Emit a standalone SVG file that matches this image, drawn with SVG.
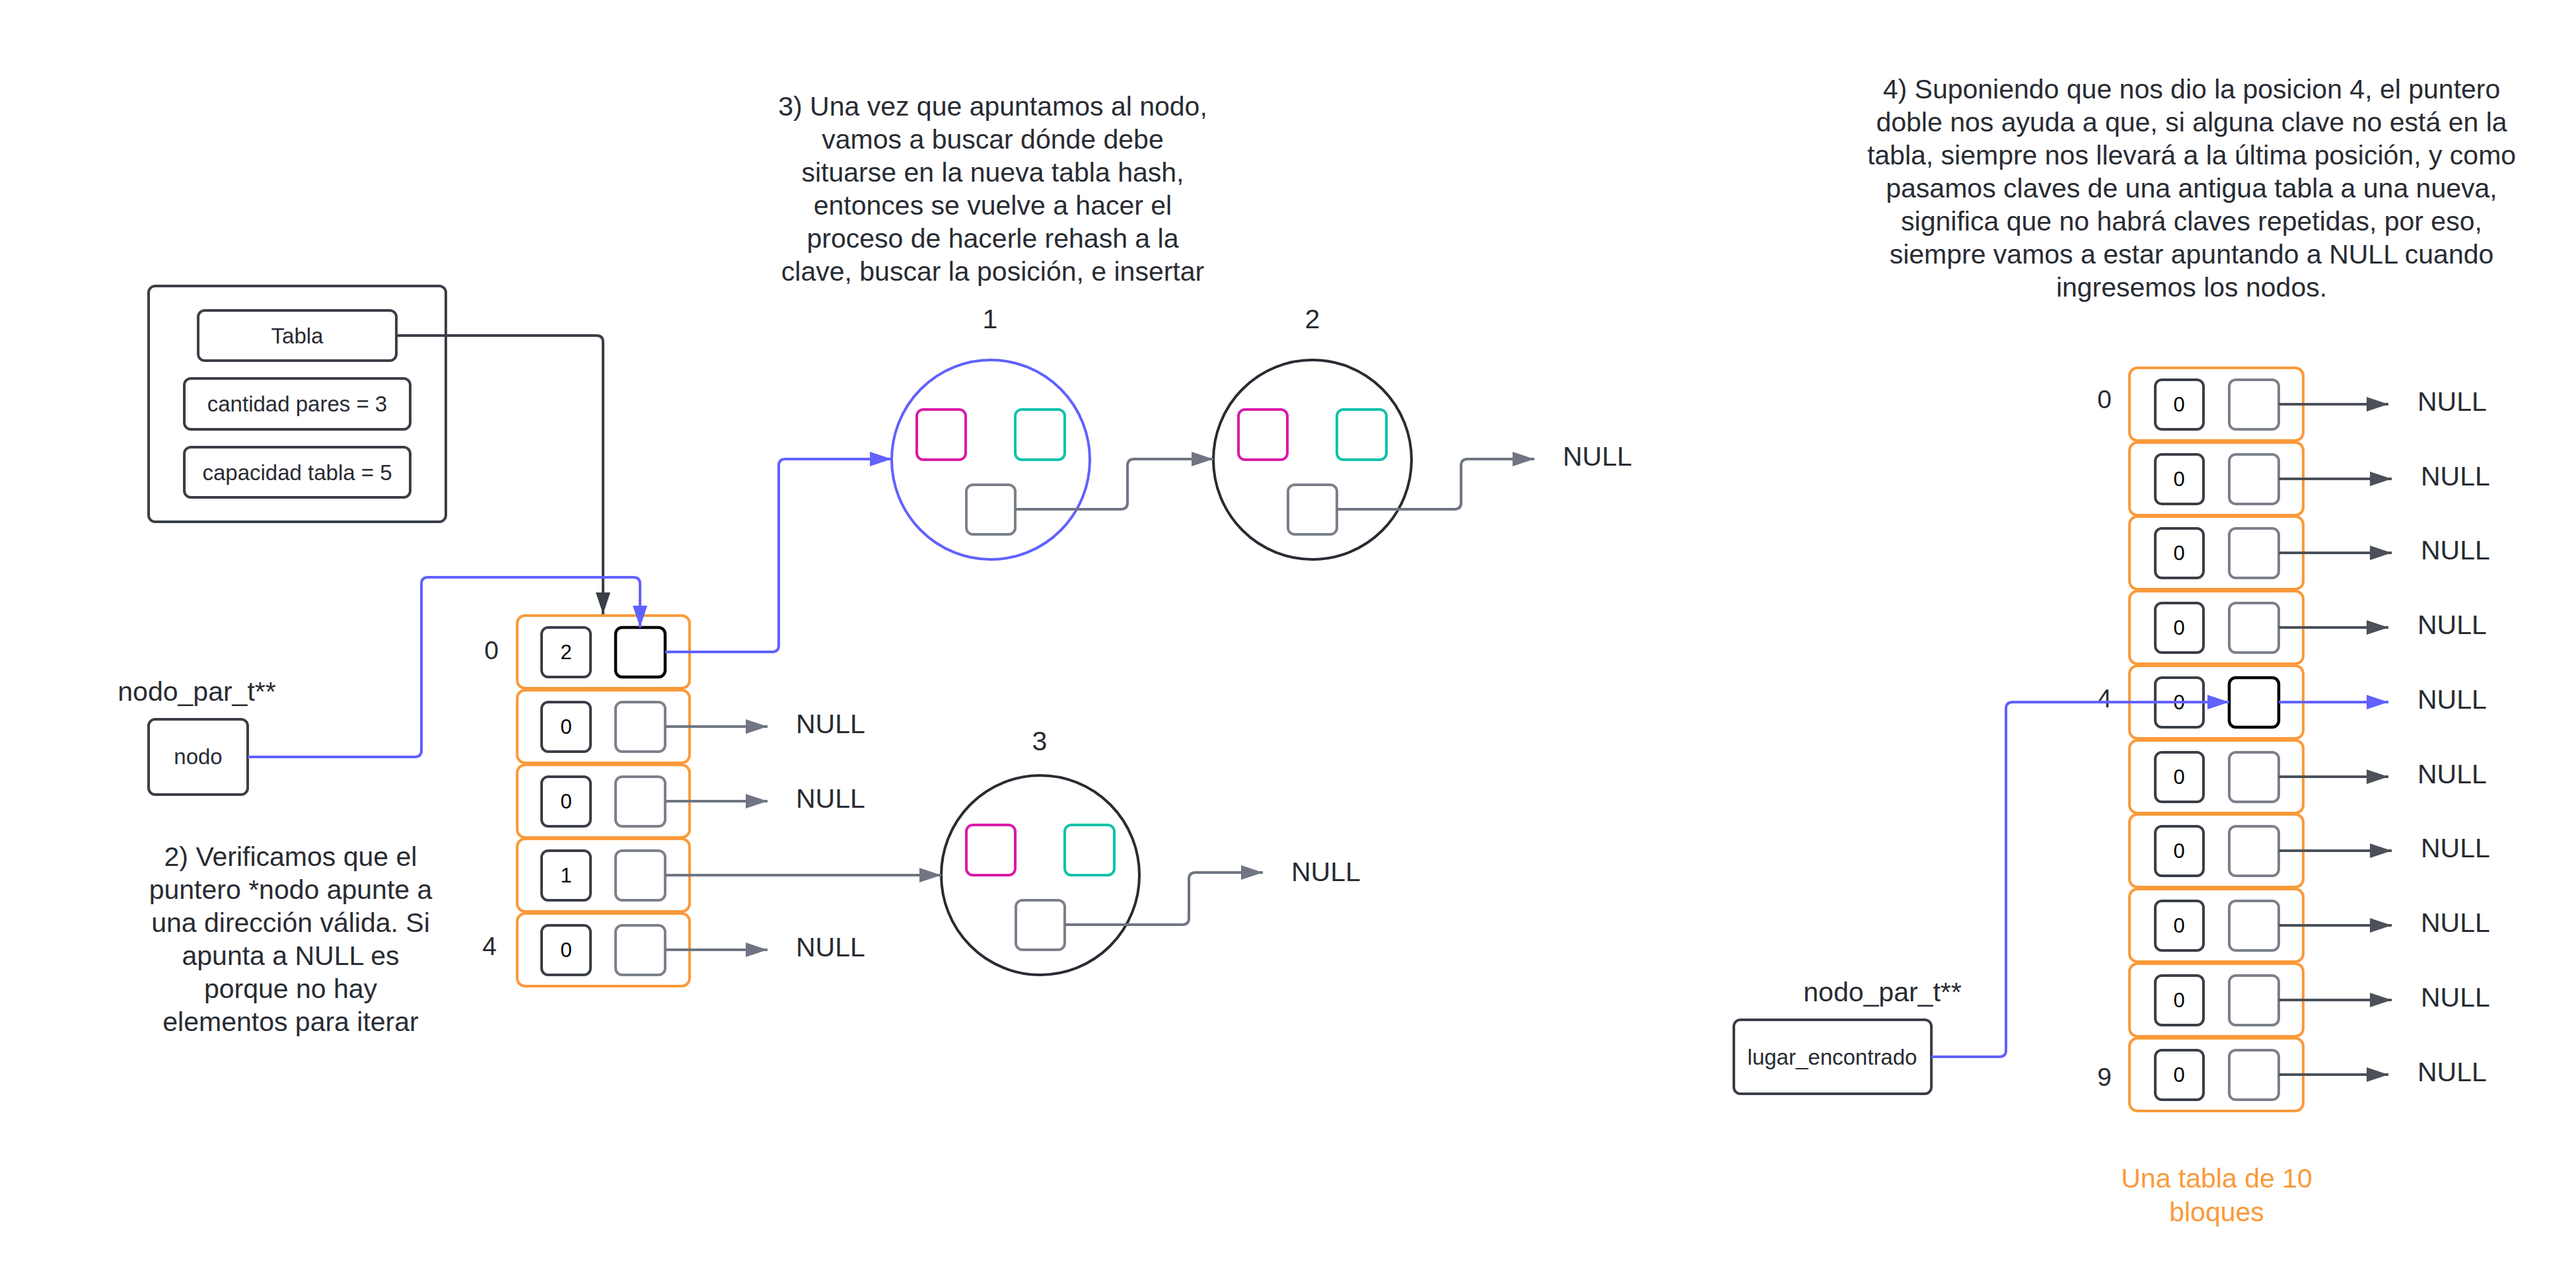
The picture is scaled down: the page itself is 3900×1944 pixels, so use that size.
<svg xmlns="http://www.w3.org/2000/svg" width="3900" height="1944" viewBox="0 0 3900 1944">
<defs>
<style>
text{font-family:"Liberation Sans",Arial,sans-serif;fill:#282c33}
.big{font-size:41px}
.idx{font-size:39px;text-anchor:middle}
.sm{font-size:33px;text-anchor:middle}
.num{font-size:31px;text-anchor:middle;fill:#000}
.mid{text-anchor:middle}
.box{fill:#fff;stroke:#3a3f47;stroke-width:4}
.row{fill:#fff;stroke:#fa9a3a;stroke-width:4}
.ik{fill:#fff;stroke:#3a3f47;stroke-width:4}
.ip{fill:#fff;stroke:#7b808b;stroke-width:4}
.ipb{fill:#fff;stroke:#000;stroke-width:4.5}
.mag{fill:#fff;stroke:#d91aa8;stroke-width:4}
.teal{fill:#fff;stroke:#10c2a8;stroke-width:4}
.cir{fill:#fff;stroke:#282c33;stroke-width:4}
.cirb{fill:#fff;stroke:#6161ff;stroke-width:4}
.c{fill:none;stroke-width:4}
.g{stroke:#6f7582}
.dk{stroke:#4b5059}
.bl{stroke:#6161ff}
.tb{stroke:#3a3f47}
.orange{fill:#fa9a3a}
</style>
<marker id="ag" markerUnits="userSpaceOnUse" markerWidth="34" markerHeight="24" refX="33" refY="11" orient="auto"><path d="M0,0 L33,11 L0,22 z" fill="#6f7582"/></marker>
<marker id="ad" markerUnits="userSpaceOnUse" markerWidth="34" markerHeight="24" refX="33" refY="11" orient="auto"><path d="M0,0 L33,11 L0,22 z" fill="#4b5059"/></marker>
<marker id="ab" markerUnits="userSpaceOnUse" markerWidth="34" markerHeight="24" refX="33" refY="11" orient="auto"><path d="M0,0 L33,11 L0,22 z" fill="#6161ff"/></marker>
<marker id="at" markerUnits="userSpaceOnUse" markerWidth="34" markerHeight="24" refX="33" refY="11" orient="auto"><path d="M0,0 L33,11 L0,22 z" fill="#3a3f47"/></marker>
</defs>
<rect width="3900" height="1944" fill="#fff"/>

<g id="texts">
<text class="big mid" x="1503" y="175">3) Una vez que apuntamos al nodo,</text>
<text class="big mid" x="1503" y="225">vamos a buscar dónde debe</text>
<text class="big mid" x="1503" y="275">situarse en la nueva tabla hash,</text>
<text class="big mid" x="1503" y="325">entonces se vuelve a hacer el</text>
<text class="big mid" x="1503" y="375">proceso de hacerle rehash a la</text>
<text class="big mid" x="1503" y="425">clave, buscar la posición, e insertar</text>

<text class="big mid" x="3318" y="149">4) Suponiendo que nos dio la posicion 4, el puntero</text>
<text class="big mid" x="3318" y="199">doble nos ayuda a que, si alguna clave no está en la</text>
<text class="big mid" x="3318" y="249">tabla, siempre nos llevará a la última posición, y como</text>
<text class="big mid" x="3318" y="299">pasamos claves de una antigua tabla a una nueva,</text>
<text class="big mid" x="3318" y="349">significa que no habrá claves repetidas, por eso,</text>
<text class="big mid" x="3318" y="399">siempre vamos a estar apuntando a NULL cuando</text>
<text class="big mid" x="3318" y="449">ingresemos los nodos.</text>

<text class="big mid" x="440" y="1311">2) Verificamos que el</text>
<text class="big mid" x="440" y="1361">puntero *nodo apunte a</text>
<text class="big mid" x="440" y="1411">una dirección válida. Si</text>
<text class="big mid" x="440" y="1461">apunta a NULL es</text>
<text class="big mid" x="440" y="1511">porque no hay</text>
<text class="big mid" x="440" y="1561">elementos para iterar</text>

<text class="big mid orange" x="3356" y="1798">Una tabla de 10</text>
<text class="big mid orange" x="3356" y="1849">bloques</text>
</g>

<g id="tabla-struct">
<rect class="box" x="225" y="433" width="450" height="357" rx="10"/>
<rect class="box" x="300" y="470" width="300" height="76" rx="10"/>
<text class="sm" x="450" y="520">Tabla</text>
<rect class="box" x="279" y="573" width="342" height="77" rx="10"/>
<text class="sm" x="450" y="623">cantidad pares = 3</text>
<rect class="box" x="279" y="677" width="342" height="76" rx="10"/>
<text class="sm" x="450" y="727">capacidad tabla = 5</text>
</g>

<g id="nodo-ptr">
<text class="big mid" x="298" y="1061">nodo_par_t**</text>
<rect class="box" x="225" y="1089" width="150" height="114" rx="10"/>
<text class="sm" x="300" y="1157">nodo</text>
</g>

<g id="tabla-vieja">
<text class="idx" x="744" y="998">0</text>
<text class="idx" x="741" y="1446">4</text>
<g id="tv-0"><rect class="row" x="783" y="932" width="261" height="110" rx="12"/><rect class="ik" x="820" y="950" width="74" height="75" rx="10"/><rect class="ipb" x="932" y="950" width="75" height="75" rx="10"/><text class="num" x="857" y="998">2</text></g>
<g id="tv-1"><rect class="row" x="783" y="1045" width="261" height="110" rx="12"/><rect class="ik" x="820" y="1063" width="74" height="75" rx="10"/><rect class="ip" x="932" y="1063" width="75" height="75" rx="10"/><text class="num" x="857" y="1111">0</text></g>
<g id="tv-2"><rect class="row" x="783" y="1158" width="261" height="110" rx="12"/><rect class="ik" x="820" y="1176" width="74" height="75" rx="10"/><rect class="ip" x="932" y="1176" width="75" height="75" rx="10"/><text class="num" x="857" y="1224">0</text></g>
<g id="tv-3"><rect class="row" x="783" y="1270" width="261" height="110" rx="12"/><rect class="ik" x="820" y="1288" width="74" height="75" rx="10"/><rect class="ip" x="932" y="1288" width="75" height="75" rx="10"/><text class="num" x="857" y="1336">1</text></g>
<g id="tv-4"><rect class="row" x="783" y="1383" width="261" height="110" rx="12"/><rect class="ik" x="820" y="1401" width="74" height="75" rx="10"/><rect class="ip" x="932" y="1401" width="75" height="75" rx="10"/><text class="num" x="857" y="1449">0</text></g>
<text class="big" x="1205" y="1110">NULL</text>
<text class="big" x="1205" y="1223">NULL</text>
<text class="big" x="1205" y="1448">NULL</text>
</g>

<g id="nodo-1">
<text class="big mid" x="1499" y="497">1</text>
<ellipse class="cirb" cx="1500" cy="696" rx="150" ry="151"/>
<rect class="mag" x="1388" y="620" width="74" height="76" rx="10"/>
<rect class="teal" x="1537" y="620" width="75" height="76" rx="10"/>
<rect class="ip" x="1463" y="734" width="74" height="75" rx="10"/>
</g>
<g id="nodo-2">
<text class="big mid" x="1987" y="497">2</text>
<ellipse class="cir" cx="1987" cy="696" rx="150" ry="151"/>
<rect class="mag" x="1875" y="620" width="74" height="76" rx="10"/>
<rect class="teal" x="2024" y="620" width="75" height="76" rx="10"/>
<rect class="ip" x="1950" y="734" width="74" height="75" rx="10"/>
<text class="big" x="2366" y="705">NULL</text>
</g>
<g id="nodo-3">
<text class="big mid" x="1574" y="1136">3</text>
<ellipse class="cir" cx="1575" cy="1325" rx="150" ry="151"/>
<rect class="mag" x="1463" y="1249" width="74" height="76" rx="10"/>
<rect class="teal" x="1612" y="1249" width="75" height="76" rx="10"/>
<rect class="ip" x="1538" y="1363" width="74" height="75" rx="10"/>
<text class="big" x="1955" y="1334">NULL</text>
</g>

<g id="tabla-nueva">
<text class="idx" x="3186" y="618">0</text>
<text class="idx" x="3186" y="1071">4</text>
<text class="idx" x="3186" y="1644">9</text>
<g id="tn-0"><rect class="row" x="3224" y="557" width="263" height="110" rx="12"/><rect class="ik" x="3263" y="575" width="73" height="75" rx="10"/><rect class="ip" x="3375" y="575" width="75" height="75" rx="10"/><text class="num" x="3299" y="623">0</text></g>
<g id="tn-1"><rect class="row" x="3224" y="670" width="263" height="110" rx="12"/><rect class="ik" x="3263" y="688" width="73" height="75" rx="10"/><rect class="ip" x="3375" y="688" width="75" height="75" rx="10"/><text class="num" x="3299" y="736">0</text></g>
<g id="tn-2"><rect class="row" x="3224" y="782" width="263" height="110" rx="12"/><rect class="ik" x="3263" y="800" width="73" height="75" rx="10"/><rect class="ip" x="3375" y="800" width="75" height="75" rx="10"/><text class="num" x="3299" y="848">0</text></g>
<g id="tn-3"><rect class="row" x="3224" y="895" width="263" height="110" rx="12"/><rect class="ik" x="3263" y="913" width="73" height="75" rx="10"/><rect class="ip" x="3375" y="913" width="75" height="75" rx="10"/><text class="num" x="3299" y="961">0</text></g>
<g id="tn-4"><rect class="row" x="3224" y="1008" width="263" height="110" rx="12"/><rect class="ik" x="3263" y="1026" width="73" height="75" rx="10"/><rect class="ipb" x="3375" y="1026" width="75" height="75" rx="10"/><text class="num" x="3299" y="1074">0</text></g>
<g id="tn-5"><rect class="row" x="3224" y="1121" width="263" height="110" rx="12"/><rect class="ik" x="3263" y="1139" width="73" height="75" rx="10"/><rect class="ip" x="3375" y="1139" width="75" height="75" rx="10"/><text class="num" x="3299" y="1187">0</text></g>
<g id="tn-6"><rect class="row" x="3224" y="1233" width="263" height="110" rx="12"/><rect class="ik" x="3263" y="1251" width="73" height="75" rx="10"/><rect class="ip" x="3375" y="1251" width="75" height="75" rx="10"/><text class="num" x="3299" y="1299">0</text></g>
<g id="tn-7"><rect class="row" x="3224" y="1346" width="263" height="110" rx="12"/><rect class="ik" x="3263" y="1364" width="73" height="75" rx="10"/><rect class="ip" x="3375" y="1364" width="75" height="75" rx="10"/><text class="num" x="3299" y="1412">0</text></g>
<g id="tn-8"><rect class="row" x="3224" y="1459" width="263" height="110" rx="12"/><rect class="ik" x="3263" y="1477" width="73" height="75" rx="10"/><rect class="ip" x="3375" y="1477" width="75" height="75" rx="10"/><text class="num" x="3299" y="1525">0</text></g>
<g id="tn-9"><rect class="row" x="3224" y="1572" width="263" height="110" rx="12"/><rect class="ik" x="3263" y="1590" width="73" height="75" rx="10"/><rect class="ip" x="3375" y="1590" width="75" height="75" rx="10"/><text class="num" x="3299" y="1638">0</text></g>
<text class="big" x="3660" y="622">NULL</text>
<text class="big" x="3665" y="735">NULL</text>
<text class="big" x="3665" y="847">NULL</text>
<text class="big" x="3660" y="960">NULL</text>
<text class="big" x="3660" y="1073">NULL</text>
<text class="big" x="3660" y="1186">NULL</text>
<text class="big" x="3665" y="1298">NULL</text>
<text class="big" x="3665" y="1411">NULL</text>
<text class="big" x="3665" y="1524">NULL</text>
<text class="big" x="3660" y="1637">NULL</text>
</g>

<g id="lugar-ptr">
<text class="big mid" x="2850" y="1516">nodo_par_t**</text>
<rect class="box" x="2625" y="1544" width="299" height="112" rx="10"/>
<text class="sm" x="2774" y="1612">lugar_encontrado</text>
</g>

<g id="connectors">
<path class="c tb" d="M600,508 H903 Q913,508 913,518 V930" marker-end="url(#at)"/>
<path class="c bl" d="M375,1146 H628 Q638,1146 638,1136 V884 Q638,874 648,874 H959 Q969,874 969,884 V950" marker-end="url(#ab)"/>
<path class="c bl" d="M1007,987 H1169 Q1179,987 1179,977 V705 Q1179,695 1189,695 H1350" marker-end="url(#ab)"/>
<path class="c g" d="M1007,1100 H1162" marker-end="url(#ag)"/>
<path class="c g" d="M1007,1213 H1162" marker-end="url(#ag)"/>
<path class="c g" d="M1007,1325 H1425" marker-end="url(#ag)"/>
<path class="c g" d="M1007,1438 H1162" marker-end="url(#ag)"/>
<path class="c g" d="M1537,771 H1697 Q1707,771 1707,761 V705 Q1707,695 1717,695 H1837" marker-end="url(#ag)"/>
<path class="c g" d="M2024,771 H2202 Q2212,771 2212,761 V705 Q2212,695 2222,695 H2323" marker-end="url(#ag)"/>
<path class="c g" d="M1612,1400 H1790 Q1800,1400 1800,1390 V1331 Q1800,1321 1810,1321 H1912" marker-end="url(#ag)"/>
<path class="c dk" d="M3450,612 H3616" marker-end="url(#ad)"/>
<path class="c dk" d="M3450,725 H3621" marker-end="url(#ad)"/>
<path class="c dk" d="M3450,837 H3621" marker-end="url(#ad)"/>
<path class="c dk" d="M3450,950 H3616" marker-end="url(#ad)"/>
<path class="c bl" d="M3450,1063 H3616" marker-end="url(#ab)"/>
<path class="c dk" d="M3450,1176 H3616" marker-end="url(#ad)"/>
<path class="c dk" d="M3450,1288 H3621" marker-end="url(#ad)"/>
<path class="c dk" d="M3450,1401 H3621" marker-end="url(#ad)"/>
<path class="c dk" d="M3450,1514 H3621" marker-end="url(#ad)"/>
<path class="c dk" d="M3450,1627 H3616" marker-end="url(#ad)"/>
<path class="c bl" d="M2924,1600 H3027 Q3037,1600 3037,1590 V1073 Q3037,1063 3047,1063 H3375" marker-end="url(#ab)"/>
</g>
</svg>
